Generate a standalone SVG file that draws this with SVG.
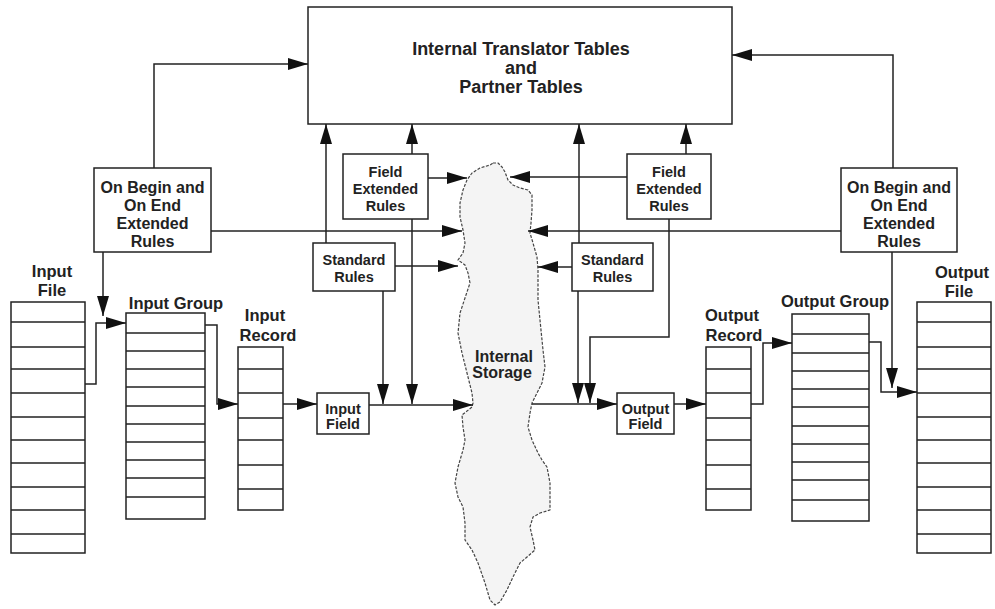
<svg xmlns="http://www.w3.org/2000/svg" width="995" height="609" viewBox="0 0 995 609">
<defs>
<style>
.box{fill:#fff;stroke:#222;stroke-width:1.5}
.row{fill:none;stroke:#222;stroke-width:1.5}
.ln{fill:none;stroke:#222;stroke-width:1.5;marker-end:url(#ah)}
text{font-family:"Liberation Sans",Arial,sans-serif;font-weight:bold;fill:#222;text-anchor:middle}
.t18{font-size:18px}
.t17{font-size:16.5px}
.t16{font-size:16px}
.t14{font-size:14.5px}
</style>
<marker id="ah" markerUnits="userSpaceOnUse" markerWidth="20" markerHeight="12" refX="20" refY="6" orient="auto" viewBox="0 0 20 12">
<path d="M0,0 L20,6 L0,12 Z" fill="#111"/>
</marker>
</defs>
<rect width="995" height="609" fill="#fff"/>

<g id="storage">
<polygon points="493,163 498,163 502,167 505,172 508,180 513,185 520,188 528,190 532,195 532,210 531,223 530,233 533,243 537,257 538,270 538,290 538,300 540,320 543,350 545,367 542,383 535,397 532,403 530,413 528,427 532,440 538,453 542,460 547,467 550,483 550,510 540,513 533,517 530,527 533,540 535,550 527,557 520,563 513,577 507,590 500,602 495,605 490,600 485,583 478,563 472,550 465,540 465,523 463,507 458,497 455,483 458,467 463,450 465,440 463,427 462,415 472,407 473,403 472,393 467,373 462,353 458,333 460,313 465,298 470,283 468,273 465,265 458,260 463,253 465,243 463,230 460,217 460,203 463,190 467,180 472,173 480,168 490,165" fill="#f4f4f4" stroke="#444" stroke-width="1.2" stroke-dasharray="3,1.5" stroke-linejoin="round"/>
<text class="t16" x="504" y="362">Internal</text>
<text class="t16" x="502" y="378">Storage</text>
</g>

<g id="tables">
<rect class="box" x="308" y="7" width="424" height="117"/>
<text class="t18" x="521" y="55">Internal Translator Tables</text>
<text class="t18" x="521" y="74">and</text>
<text class="t18" x="521" y="93">Partner Tables</text>
</g>

<g id="oboe-left">
<rect class="box" x="94" y="168" width="117" height="84"/>
<text class="t16" x="152.5" y="193">On Begin and</text>
<text class="t16" x="152.5" y="211">On End</text>
<text class="t16" x="152.5" y="229">Extended</text>
<text class="t16" x="152.5" y="247">Rules</text>
</g>

<g id="oboe-right">
<rect class="box" x="841" y="168" width="116" height="84"/>
<text class="t16" x="899" y="193">On Begin and</text>
<text class="t16" x="899" y="211">On End</text>
<text class="t16" x="899" y="229">Extended</text>
<text class="t16" x="899" y="247">Rules</text>
</g>

<g id="fer-left">
<rect class="box" x="343" y="154" width="85" height="65"/>
<text class="t14" x="385.5" y="177">Field</text>
<text class="t14" x="385.5" y="194">Extended</text>
<text class="t14" x="385.5" y="211">Rules</text>
</g>

<g id="fer-right">
<rect class="box" x="627" y="154" width="84" height="65"/>
<text class="t14" x="669" y="177">Field</text>
<text class="t14" x="669" y="194">Extended</text>
<text class="t14" x="669" y="211">Rules</text>
</g>

<g id="sr-left">
<rect class="box" x="313" y="243" width="82" height="48"/>
<text class="t14" x="354" y="265">Standard</text>
<text class="t14" x="354" y="282">Rules</text>
</g>

<g id="sr-right">
<rect class="box" x="572" y="243" width="81" height="48"/>
<text class="t14" x="612.5" y="265">Standard</text>
<text class="t14" x="612.5" y="282">Rules</text>
</g>

<g id="input-field">
<rect class="box" x="317" y="393" width="52" height="41"/>
<text class="t14" x="343" y="414">Input</text>
<text class="t14" x="343" y="429">Field</text>
</g>

<g id="output-field">
<rect class="box" x="617" y="393" width="57" height="41"/>
<text class="t14" x="645.5" y="414">Output</text>
<text class="t14" x="645.5" y="429">Field</text>
</g>

<g id="input-file">
<text class="t17" x="52" y="277">Input</text>
<text class="t17" x="52" y="296">File</text>
<rect class="box" x="11" y="302" width="74" height="251"/>
<path class="row" d="M11,322H85M11,347H85M11,369H85M11,393H85M11,417H85M11,440H85M11,463H85M11,487H85M11,510H85M11,534H85"/>
</g>

<g id="input-group">
<text class="t17" x="176" y="309">Input Group</text>
<rect class="box" x="126" y="313" width="79" height="206"/>
<path class="row" d="M126,333H205M126,351H205M126,369H205M126,387H205M126,406H205M126,424H205M126,442H205M126,460H205M126,478H205M126,497H205"/>
</g>

<g id="input-record">
<text class="t17" x="265" y="321">Input</text>
<text class="t17" x="268" y="341">Record</text>
<rect class="box" x="238" y="347" width="45" height="163"/>
<path class="row" d="M238,369H283M238,393H283M238,418H283M238,440H283M238,465H283M238,489H283"/>
</g>

<g id="output-record">
<text class="t17" x="732" y="321">Output</text>
<text class="t17" x="734" y="341">Record</text>
<rect class="box" x="706" y="347" width="45" height="163"/>
<path class="row" d="M706,369H751M706,393H751M706,418H751M706,440H751M706,465H751M706,489H751"/>
</g>

<g id="output-group">
<text class="t17" x="835" y="307">Output Group</text>
<rect class="box" x="792" y="314" width="77" height="207"/>
<path class="row" d="M792,334H869M792,353H869M792,371H869M792,389H869M792,407H869M792,426H869M792,444H869M792,462H869M792,480H869M792,500H869"/>
</g>

<g id="output-file">
<text class="t17" x="962" y="278">Output</text>
<text class="t17" x="959" y="297">File</text>
<rect class="box" x="917" y="302" width="74" height="251"/>
<path class="row" d="M917,322H991M917,347H991M917,369H991M917,393H991M917,417H991M917,440H991M917,463H991M917,487H991M917,510H991M917,534H991"/>
</g>

<g id="connectors">
<polyline class="ln" points="154,168 154,64 308,64"/>
<polyline class="ln" points="893,168 893,55 732,55"/>
<line class="ln" x1="326" y1="243" x2="326" y2="124"/>
<line class="ln" x1="412" y1="154" x2="412" y2="124"/>
<line class="ln" x1="579" y1="243" x2="579" y2="124"/>
<line class="ln" x1="686" y1="154" x2="686" y2="124"/>
<line class="ln" x1="428" y1="178" x2="467" y2="178"/>
<line class="ln" x1="627" y1="177" x2="510" y2="177"/>
<line class="ln" x1="211" y1="231" x2="462" y2="231"/>
<line class="ln" x1="841" y1="231" x2="528" y2="231"/>
<line class="ln" x1="395" y1="266" x2="458" y2="266"/>
<line class="ln" x1="572" y1="267" x2="538" y2="267"/>
<line class="ln" x1="103" y1="252" x2="103" y2="316"/>
<polyline class="ln" points="85,384 96,384 96,323 126,323"/>
<polyline class="ln" points="205,325 217,325 217,404 238,404"/>
<line class="ln" x1="283" y1="404" x2="317" y2="404"/>
<line class="ln" x1="369" y1="405" x2="473" y2="405"/>
<line class="ln" x1="383" y1="291" x2="383" y2="404"/>
<line class="ln" x1="412" y1="219" x2="412" y2="404"/>
<line class="ln" x1="532" y1="404" x2="617" y2="404"/>
<line class="ln" x1="578" y1="291" x2="578" y2="403"/>
<polyline class="ln" points="669,219 669,337 590,337 590,403"/>
<line class="ln" x1="674" y1="404" x2="706" y2="404"/>
<polyline class="ln" points="751,404 763,404 763,343 792,343"/>
<polyline class="ln" points="869,342 881,342 881,392 917,392"/>
<line class="ln" x1="892" y1="252" x2="892" y2="388"/>
</g>
</svg>
